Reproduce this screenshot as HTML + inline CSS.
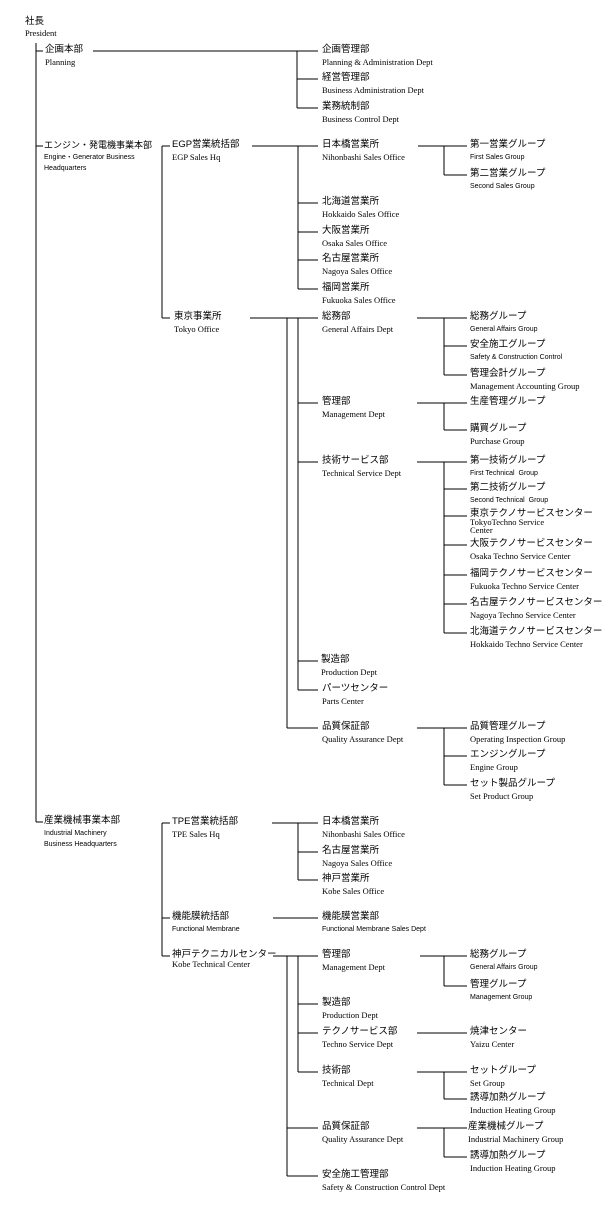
<!DOCTYPE html>
<html><head><meta charset="utf-8"><style>
html,body{margin:0;padding:0;background:#fff;width:603px;height:1210px;overflow:hidden}
body{position:relative;font-family:"Liberation Serif","Noto Serif CJK SC",serif;color:#000}
svg{position:absolute;left:0;top:0}
.n{position:absolute;white-space:nowrap}
.j{font-family:"Liberation Sans","Noto Sans CJK JP",sans-serif;font-size:9.5px;line-height:12px;display:block;letter-spacing:0}
.e{font-size:8.5px;line-height:10px;display:block;margin-top:1px}
.s{font-family:"Liberation Sans",sans-serif;font-size:7px;line-height:11px}
</style></head><body>
<svg width="603" height="1210" stroke="#000" stroke-width="1" shape-rendering="crispEdges">
<path d="M36 43V822 M36 51H43 M36 146H43 M36 822H43
M93 51H318 M297 51V108 M297 79H318 M297 108H318
M252 146H318 M298 146V289 M298 203H318 M298 232H318 M298 260H318 M298 289H318
M162 146V318 M162 146H170 M162 318H170
M418 146H467 M444 146V175 M444 175H467
M250 318H318 M287 318V728 M298 318V690 M298 403H318 M298 462H318 M298 661H318 M298 690H318 M287 728H318
M417 318H467 M444 318V375 M444 346H467 M444 375H467
M417 403H467 M444 403V430 M444 430H467
M417 462H467 M444 462V633 M444 489H467 M444 516H467 M444 545H467 M444 575H467 M444 604H467 M444 633H467
M417 728H467 M444 728V785 M444 756H467 M444 785H467
M162 823V956 M162 823H170 M162 918H170 M162 956H170
M272 823H318 M298 823V880 M298 852H318 M298 880H318
M273 918H318
M273 956H318 M287 956V1176 M298 956V1072 M298 1004H318 M298 1033H318 M298 1072H318 M287 1128H318 M287 1176H318
M420 956H467 M444 956V986 M444 986H467
M417 1033H467
M417 1072H467 M444 1072V1099 M444 1099H467
M417 1128H467 M444 1128V1157 M444 1157H467" fill="none"/>
</svg>

<div class="n" style="left:25px;top:16px"><span class="j">社長</span><span class="e" style="margin-top:0">President</span></div>

<div class="n" style="left:45px;top:44px"><span class="j">企画本部</span><span class="e">Planning</span></div>
<div class="n" style="left:44px;top:139px"><span class="j" style="font-size:9px">エンジン・発電機事業本部</span><span class="e s">Engine・Generator Business<br>Headquarters</span></div>
<div class="n" style="left:44px;top:815px"><span class="j">産業機械事業本部</span><span class="e s">Industrial Machinery<br>Business Headquarters</span></div>

<div class="n" style="left:172px;top:139px"><span class="j">EGP営業統括部</span><span class="e">EGP Sales Hq</span></div>
<div class="n" style="left:174px;top:311px"><span class="j">東京事業所</span><span class="e">Tokyo Office</span></div>
<div class="n" style="left:172px;top:816px"><span class="j">TPE営業統括部</span><span class="e">TPE Sales Hq</span></div>
<div class="n" style="left:172px;top:911px"><span class="j">機能膜統括部</span><span class="e s">Functional Membrane</span></div>
<div class="n" style="left:172px;top:949px"><span class="j">神戸テクニカルセンター</span><span class="e" style="margin-top:-2px">Kobe Technical Center</span></div>

<div class="n" style="left:322px;top:44px"><span class="j">企画管理部</span><span class="e">Planning &amp; Administration Dept</span></div>
<div class="n" style="left:322px;top:72px"><span class="j">経営管理部</span><span class="e">Business Administration Dept</span></div>
<div class="n" style="left:322px;top:101px"><span class="j">業務統制部</span><span class="e">Business Control Dept</span></div>
<div class="n" style="left:322px;top:139px"><span class="j">日本橋営業所</span><span class="e">Nihonbashi Sales Office</span></div>
<div class="n" style="left:322px;top:196px"><span class="j">北海道営業所</span><span class="e">Hokkaido Sales Office</span></div>
<div class="n" style="left:322px;top:225px"><span class="j">大阪営業所</span><span class="e">Osaka Sales Office</span></div>
<div class="n" style="left:322px;top:253px"><span class="j">名古屋営業所</span><span class="e">Nagoya Sales Office</span></div>
<div class="n" style="left:322px;top:282px"><span class="j">福岡営業所</span><span class="e">Fukuoka Sales Office</span></div>
<div class="n" style="left:322px;top:311px"><span class="j">総務部</span><span class="e">General Affairs Dept</span></div>
<div class="n" style="left:322px;top:396px"><span class="j">管理部</span><span class="e">Management Dept</span></div>
<div class="n" style="left:322px;top:455px"><span class="j">技術サービス部</span><span class="e">Technical Service Dept</span></div>
<div class="n" style="left:321px;top:654px"><span class="j">製造部</span><span class="e">Production Dept</span></div>
<div class="n" style="left:322px;top:683px"><span class="j">パーツセンター</span><span class="e">Parts Center</span></div>
<div class="n" style="left:322px;top:721px"><span class="j">品質保証部</span><span class="e">Quality Assurance Dept</span></div>
<div class="n" style="left:322px;top:816px"><span class="j">日本橋営業所</span><span class="e">Nihonbashi Sales Office</span></div>
<div class="n" style="left:322px;top:845px"><span class="j">名古屋営業所</span><span class="e">Nagoya Sales Office</span></div>
<div class="n" style="left:322px;top:873px"><span class="j">神戸営業所</span><span class="e">Kobe Sales Office</span></div>
<div class="n" style="left:322px;top:911px"><span class="j">機能膜営業部</span><span class="e s">Functional Membrane Sales Dept</span></div>
<div class="n" style="left:322px;top:949px"><span class="j">管理部</span><span class="e">Management Dept</span></div>
<div class="n" style="left:322px;top:997px"><span class="j">製造部</span><span class="e">Production Dept</span></div>
<div class="n" style="left:322px;top:1026px"><span class="j">テクノサービス部</span><span class="e">Techno Service Dept</span></div>
<div class="n" style="left:322px;top:1065px"><span class="j">技術部</span><span class="e">Technical Dept</span></div>
<div class="n" style="left:322px;top:1121px"><span class="j">品質保証部</span><span class="e">Quality Assurance Dept</span></div>
<div class="n" style="left:322px;top:1169px"><span class="j">安全施工管理部</span><span class="e">Safety &amp; Construction Control Dept</span></div>

<div class="n" style="left:470px;top:139px"><span class="j">第一営業グループ</span><span class="e s">First Sales Group</span></div>
<div class="n" style="left:470px;top:168px"><span class="j">第二営業グループ</span><span class="e s">Second Sales Group</span></div>
<div class="n" style="left:470px;top:311px"><span class="j">総務グループ</span><span class="e s">General Affairs Group</span></div>
<div class="n" style="left:470px;top:339px"><span class="j">安全施工グループ</span><span class="e s">Safety &amp; Construction Control</span></div>
<div class="n" style="left:470px;top:368px"><span class="j">管理会計グループ</span><span class="e">Management Accounting Group</span></div>
<div class="n" style="left:470px;top:396px"><span class="j">生産管理グループ</span></div>
<div class="n" style="left:470px;top:423px"><span class="j">購買グループ</span><span class="e">Purchase Group</span></div>
<div class="n" style="left:470px;top:455px"><span class="j">第一技術グループ</span><span class="e s">First Technical&nbsp; Group</span></div>
<div class="n" style="left:470px;top:482px"><span class="j">第二技術グループ</span><span class="e s">Second Technical&nbsp; Group</span></div>
<div class="n" style="left:470px;top:508px"><span class="j">東京テクノサービスセンター</span><span class="e" style="margin-top:-2px;line-height:8px">TokyoTechno Service<br>Center</span></div>
<div class="n" style="left:470px;top:538px"><span class="j">大阪テクノサービスセンター</span><span class="e">Osaka Techno Service Center</span></div>
<div class="n" style="left:470px;top:568px"><span class="j">福岡テクノサービスセンター</span><span class="e">Fukuoka Techno Service Center</span></div>
<div class="n" style="left:470px;top:597px"><span class="j">名古屋テクノサービスセンター</span><span class="e">Nagoya Techno Service Center</span></div>
<div class="n" style="left:470px;top:626px"><span class="j">北海道テクノサービスセンター</span><span class="e">Hokkaido Techno Service Center</span></div>
<div class="n" style="left:470px;top:721px"><span class="j">品質管理グループ</span><span class="e">Operating Inspection Group</span></div>
<div class="n" style="left:470px;top:749px"><span class="j">エンジングループ</span><span class="e">Engine Group</span></div>
<div class="n" style="left:470px;top:778px"><span class="j">セット製品グループ</span><span class="e">Set Product Group</span></div>
<div class="n" style="left:470px;top:949px"><span class="j">総務グループ</span><span class="e s">General Affairs Group</span></div>
<div class="n" style="left:470px;top:979px"><span class="j">管理グループ</span><span class="e s">Management Group</span></div>
<div class="n" style="left:470px;top:1026px"><span class="j">焼津センター</span><span class="e">Yaizu Center</span></div>
<div class="n" style="left:470px;top:1065px"><span class="j">セットグループ</span><span class="e">Set Group</span></div>
<div class="n" style="left:470px;top:1092px"><span class="j">誘導加熱グループ</span><span class="e">Induction Heating Group</span></div>
<div class="n" style="left:468px;top:1121px"><span class="j">産業機械グループ</span><span class="e">Industrial Machinery Group</span></div>
<div class="n" style="left:470px;top:1150px"><span class="j">誘導加熱グループ</span><span class="e">Induction Heating Group</span></div>
</body></html>
